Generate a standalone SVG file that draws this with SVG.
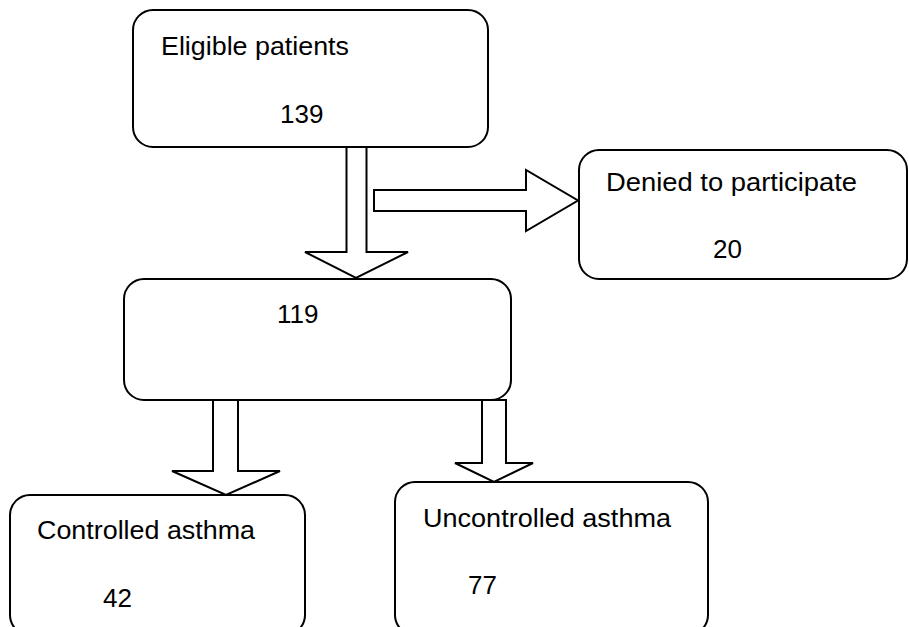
<svg xmlns="http://www.w3.org/2000/svg" width="909" height="627" viewBox="0 0 909 627">
<style>
.box{fill:#fff;stroke:#000;stroke-width:2}
.arr{fill:#fff;stroke:#000;stroke-width:2;stroke-linejoin:miter}
text{font-family:"Liberation Sans",Arial,sans-serif;font-size:26px;fill:#000}
</style>
<rect width="909" height="627" fill="#fff"/>
<g id="n1"><rect class="box" x="133" y="10" width="355" height="137" rx="20"/>
<text x="161" y="55" textLength="188" lengthAdjust="spacingAndGlyphs">Eligible patients</text>
<text x="280" y="123">139</text></g>
<g id="n2"><rect class="box" x="579" y="150" width="328" height="129" rx="20"/>
<text x="606" y="191" textLength="251" lengthAdjust="spacingAndGlyphs">Denied to participate</text>
<text x="713" y="258">20</text></g>
<g id="n3"><rect class="box" x="124" y="279" width="387" height="121" rx="20"/>
<text x="277" y="323">119</text></g>
<g id="n4"><rect class="box" x="10" y="495" width="295" height="140" rx="20"/>
<text x="37" y="539" textLength="218" lengthAdjust="spacingAndGlyphs">Controlled asthma</text>
<text x="103" y="607">42</text></g>
<g id="n5"><rect class="box" x="395" y="482" width="313" height="153" rx="20"/>
<text x="423" y="527" textLength="248" lengthAdjust="spacingAndGlyphs">Uncontrolled asthma</text>
<text x="468" y="594">77</text></g>
<g id="connectors">
<polygon class="arr" points="346.5,147 366.5,147 366.5,252 408,252 356,278 305,252 346.5,252"/>
<polygon class="arr" points="374,190 526,190 526,170 578,200.5 526,231 526,211 374,211"/>
<polygon class="arr" points="213,400 238,400 238,471 280,471 226,495 172,471 213,471"/>
<polygon class="arr" points="482,400 506,400 506,463 533,463 494,482 455,463 482,463"/>
</g>
</svg>
